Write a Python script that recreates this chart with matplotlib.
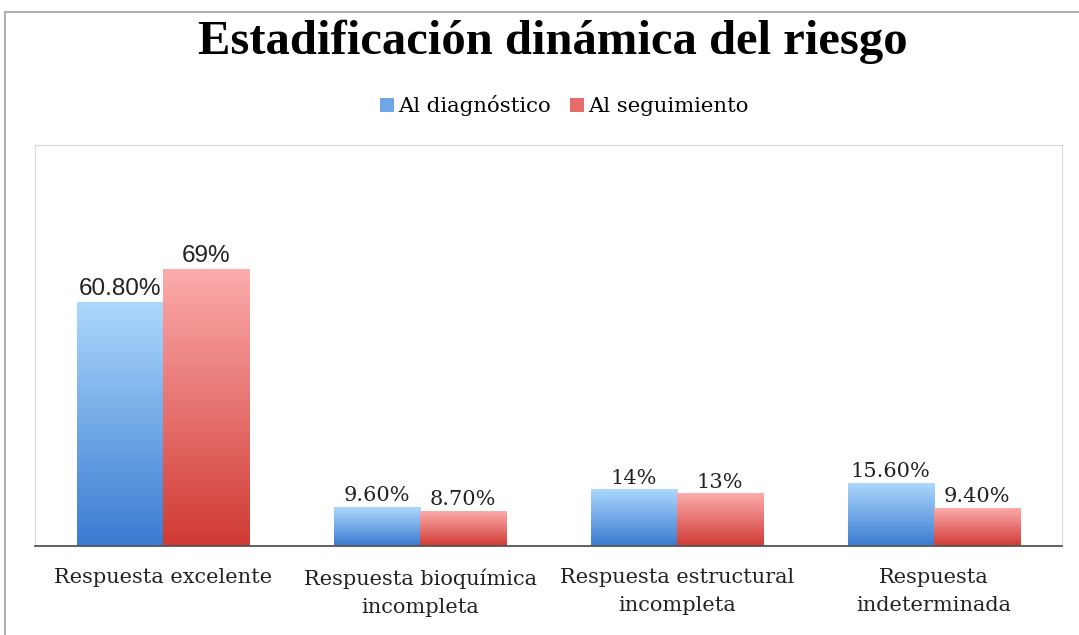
import numpy as np
import matplotlib
matplotlib.use("Agg")
import matplotlib.pyplot as plt
from matplotlib.patches import Rectangle
from matplotlib.colors import LinearSegmentedColormap

# data
categories = ["Respuesta excelente", "Respuesta bioquímica\nincompleta",
              "Respuesta estructural\nincompleta", "Respuesta\nindeterminada"]
diagnostico = [60.8, 9.6, 14, 15.6]
seguimiento = [69, 8.7, 13, 9.4]
diag_labels = ["60.80%", "9.60%", "14%", "15.60%"]
seg_labels = ["69%", "8.70%", "13%", "9.40%"]
series_names = ["Al diagnóstico", "Al seguimiento"]

serif = ["DejaVu Serif"]
sans = ["Liberation Sans", "DejaVu Sans"]

fig = plt.figure(figsize=(10.79, 6.35), dpi=100)
ax = fig.add_axes([35 / 1079, 1 - 546 / 635, (1062 - 35) / 1079, (546 - 145) / 635])

# outer frame of the chart
fig.patches.append(Rectangle((5 / 1079, -0.01), 1.0, 1 - 12 / 635 + 0.01,
                             transform=fig.transFigure, fill=False,
                             edgecolor="#a0a0a0", linewidth=1.2))

blue_cmap = LinearSegmentedColormap.from_list("b", ["#3a7ad0", "#acd8fd"])
red_cmap = LinearSegmentedColormap.from_list("r", ["#d03a34", "#fcacac"])

x = np.arange(len(categories))
w = 0.335
bars_d = ax.bar(x - w / 2, diagnostico, w, color="none", label=series_names[0])
bars_s = ax.bar(x + w / 2, seguimiento, w, color="none", label=series_names[1])

grad = np.linspace(0, 1, 256).reshape(-1, 1)
for bars, cmap in [(bars_d, blue_cmap), (bars_s, red_cmap)]:
    for b in bars:
        x0, h, bw = b.get_x(), b.get_height(), b.get_width()
        ax.imshow(grad, cmap=cmap, origin="lower", aspect="auto",
                  extent=[x0, x0 + bw, 0, h], zorder=2)

for bars, labels in [(bars_d, diag_labels), (bars_s, seg_labels)]:
    for i, b in enumerate(bars):
        if i == 0:
            fam, size = sans, 17.5
        else:
            fam, size = serif, 15
        ax.text(b.get_x() + b.get_width() / 2, b.get_height() + 0.5, labels[i],
                ha="center", va="bottom", fontsize=size, family=fam, color="#222222")

ax.set_xlim(-0.5, len(categories) - 0.5)
ax.set_ylim(0, 100)
ax.set_yticks([])
ax.set_xticks(x)
ax.set_xticklabels(categories, family=serif, fontsize=15, color="#222222",
                   linespacing=1.6)
ax.tick_params(axis="x", length=0, pad=16)
for s in ["top", "left", "right"]:
    ax.spines[s].set_color("#d9d9d9")
ax.spines["bottom"].set_color("#555555")
ax.spines["bottom"].set_linewidth(1.3)

fig.text(0.512, 1 - 42 / 635, "Estadificación dinámica del riesgo", ha="center",
         va="center", fontsize=35, fontweight="bold",
         family=["Liberation Serif", "DejaVu Serif"])

# legend with gradient-looking squares
handles = [Rectangle((0, 0), 1, 1, facecolor="#6fa6e6"),
           Rectangle((0, 0), 1, 1, facecolor="#e66c68")]
fig.legend(handles, series_names, loc="center", bbox_to_anchor=(0.523, 1 - 106 / 635),
           ncol=2, frameon=False, prop={"family": serif, "size": 15.3},
           handlelength=0.65, handleheight=0.65, handletextpad=0.2, columnspacing=0.9)

fig.savefig("out.png", dpi=100)
